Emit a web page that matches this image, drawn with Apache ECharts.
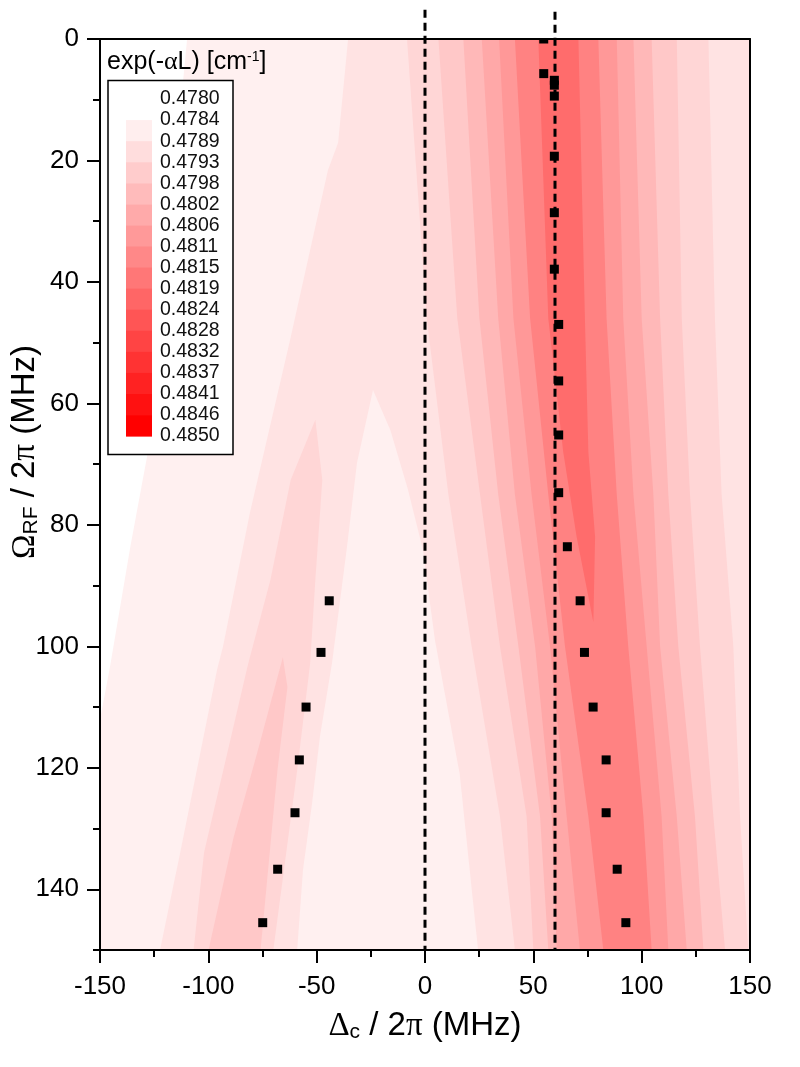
<!DOCTYPE html>
<html><head><meta charset="utf-8">
<style>html,body{margin:0;padding:0;background:#fff}#c{width:800px;height:1067px}</style>
<script src="https://cdn.jsdelivr.net/npm/echarts@6/dist/echarts.min.js"></script>
</head><body><div id="c"></div>
<script>
// ---- data ----
const xTicks = [-150, -100, -50, 0, 50, 100, 150];
const yMajor = [0, 20, 40, 60, 80, 100, 120, 140];
const yMinor = [10, 30, 50, 70, 90, 110, 130, 150];
const legendLabels = ['0.4780','0.4784','0.4789','0.4793','0.4798','0.4802','0.4806','0.4811','0.4815','0.4819','0.4824','0.4828','0.4832','0.4837','0.4841','0.4846','0.4850'];
const refLines = [0, 60];
const levelColors = ['#ffffff','#fff0f0','#ffe3e3','#ffd6d6','#ffc8c8','#ffb8b8','#ffa8a8','#ff9898','#ff8282','#ff6c6c'];

// contour boundaries of the main (right) dip: Δc at each row of Ω
const rowsY = [0, 46, 75, 100, 128, 150];
const left3  = [-8.3, 0.8, 10.8, 21.5, 34.6, 41.5];
const left4  = [6.2, 14.9, 25.4, 34.6, 46.9, 50];
const left5  = [17.7, 25.1, 33.8, 43.1, 53.1, 56.9];
const left6  = [26.2, 33.8, 41.5, 50.8, 58.5, 60.8];
const left7  = [34.2, 40.8, 49.2, 57.7, 65.4, 71.5];
const left8  = [41.5, 48.5, 56.9, 64.6, 75.4, 82.3];
const right3 = [130.8, 133.8, 136.9, 142.3, 145.4, 149.2];
const right4 = [116.2, 118.5, 122.3, 126.9, 133.1, 138.5];
const right5 = [104.6, 108.5, 112.3, 116.9, 124.6, 128.5];
const right6 = [96.2, 100, 105.4, 108.5, 116.2, 120.8];
const right7 = [88.5, 91.5, 96.2, 102.3, 109.2, 112.3];
const right8 = [80, 83.8, 88.5, 93.8, 100.8, 104.6];
const peak = [[52.3,0],[70.8,0],[73.8,46],[75.4,68],[78.5,82],[77.7,96],[70,82],[63.8,68],[56.9,46]];

// left-hand contours
const region1 = [[-109.8,0],[150,0],[150,150],[-150,150],[-150,112.1],[-145.4,103.4],[-136,83.6],[-128.3,68.8]];
const region2 = [[-35.5,0],[150,0],[150,150],[-122.3,150],[-113,134],[-96,103.9],[-93.2,100],[-80.8,78],[-62.3,49.6],[-44.8,21.6],[-40.1,17.1]];
const cone = [[-24,57.8],[-31.4,69.8],[-36,83.6],[-42.9,102.7],[-48.5,114.9],[-52.1,125.8],[-56.3,136.8],[-59,150],[24.5,150],[16,121],[4.6,99],[-1,84],[-8,74],[-16,64.4]];
const lobe3 = [[-50.6,62.7],[-62,72.6],[-71.3,89],[-81.7,103],[-102,134],[-106.8,150],[-70,150],[-59,120.4],[-53,102.8],[-50.6,89],[-47.4,72.6]];
const lobe4 = [[-65.6,101.8],[-77.5,117.6],[-88.3,131.4],[-99.9,150],[-75.9,150],[-68.1,120.4],[-63.5,106.7]];

// black squares: [Δc, Ω]
const pointsRight = [[54.8,0],[54.8,5.7],[59.7,6.8],[59.7,7.6],[59.7,9.4],[59.7,19.3],[59.7,28.6],[59.7,37.9],[61.7,47],[61.7,56.3],[61.7,65.2],[61.7,74.7],[65.7,83.6],[71.6,92.5],[73.6,101],[77.6,110],[83.6,118.7],[83.6,127.4],[88.7,136.7],[92.7,145.5]];
const pointsLeft = [[-44.2,92.5],[-48,101],[-54.9,110],[-58,118.7],[-60,127.4],[-68,136.7],[-74.9,145.5]];

// ---- build ----
const shade = i => { const g = Math.round(255 * (1 - i / 15)).toString(16).padStart(2, '0'); return '#ff' + g + g; };
const band = (l, r) => rowsY.map((y, i) => [l[i], y]).concat(rowsY.map((y, i) => [r[i], y]).reverse());
const bands = [
  [region1, 1], [region2, 2], [cone, 1],
  [lobe3, 3], [lobe4, 4],
  [band(left3, right3), 3], [band(left4, right4), 4], [band(left5, right5), 5],
  [band(left6, right6), 6], [band(left7, right7), 7], [band(left8, right8), 8], [peak, 9]
];
const font = 'Liberation Sans', greek = 'Liberation Serif';
const chart = echarts.init(document.getElementById('c'), null, {renderer: 'canvas'});
const MS = 9;

const legendX = 126, legendW = 26, legendTop = 99, legendStep = 21.07;
const legendEls = [
  {type:'rect', z:50, shape:{x:108,y:80.5,width:125,height:374}, style:{fill:'#fff',stroke:'#000',lineWidth:1.5}},
  {type:'text', z:51, x:107, y:62, style:{
     text:'{t|exp(-}{g|α}{t|L) [cm}{s|-1}{t|]}', verticalAlign:'middle',
     rich:{t:{fontFamily:font,fontSize:25,fill:'#000'},g:{fontFamily:greek,fontSize:26,fill:'#000'},s:{fontFamily:font,fontSize:14,fill:'#000',padding:[0,0,10,0]}}}}
];
legendLabels.forEach((lab, i) => {
  legendEls.push({type:'text', z:51, x:160, y:legendTop + i * legendStep, style:{text:lab, fontFamily:font, fontSize:19.5, fill:'#111', verticalAlign:'middle'}});
  if (i > 0 && i < 16) legendEls.push({type:'rect', z:50, shape:{x:legendX, y:legendTop + i * legendStep, width:legendW, height:legendStep+0.5}, style:{fill:shade(i)}});
});

const nameRich = {t:{fontFamily:font,fontSize:33,fill:'#000'},g:{fontFamily:greek,fontSize:33,fill:'#000'},s:{fontFamily:font,fontSize:21,fill:'#000',padding:[12,0,0,0]}};
const yName = {type:'text', z:60, x:25, y:452, rotation:Math.PI/2, style:{
  text:'{g|Ω}{s|RF}{t| / 2}{g|π}{t| (MHz)}', align:'center', verticalAlign:'middle', rich:nameRich}};
const xName = {type:'text', z:60, x:425, y:1026, style:{
  text:'{g|Δ}{s|c}{t| / 2}{g|π}{t| (MHz)}', align:'center', verticalAlign:'middle', rich:nameRich}};

const line = {show:true, onZero:false, lineStyle:{color:'#000', width:2}};
chart.setOption({
  animation:false,
  backgroundColor:'#fff',
  grid:{left:100, right:50, top:39, bottom:117},
  xAxis:[
    {type:'value', position:'bottom', min:-150, max:150, interval:50, z:20,
     axisLine:line, axisTick:{show:true, length:13, inside:false, lineStyle:{color:'#000',width:2}},
     minorTick:{show:true, splitNumber:2, length:7, lineStyle:{color:'#000',width:2}},
     axisLabel:{fontFamily:font, fontSize:26, color:'#000', margin:24, customValues:xTicks},
     splitLine:{show:false}, minorSplitLine:{show:false}},
    {type:'value', position:'top', min:-150, max:150, z:20, axisLine:line, axisTick:{show:false}, axisLabel:{show:false}, splitLine:{show:false}}
  ],
  yAxis:[
    {type:'value', position:'left', inverse:true, min:0, max:150, z:20,
     axisLine:line, axisTick:{show:true, length:13, customValues:yMajor, lineStyle:{color:'#000',width:2}},
     axisLabel:{fontFamily:font, fontSize:26, color:'#000', margin:21, customValues:yMajor, verticalAlign:'middle'},
     splitLine:{show:false}},
    {type:'value', position:'left', inverse:true, min:0, max:150, z:20,
     axisLine:{show:false, onZero:false}, axisTick:{show:true, length:7, customValues:yMinor, lineStyle:{color:'#000',width:2}},
     axisLabel:{show:false}, splitLine:{show:false}},
    {type:'value', position:'right', inverse:true, min:0, max:150, z:20, axisLine:line, axisTick:{show:false}, axisLabel:{show:false}, splitLine:{show:false}}
  ],
  series:[
    {type:'custom', name:'contours', coordinateSystem:'cartesian2d', xAxisIndex:0, yAxisIndex:0, silent:true, z:2,
     data:bands.map((b,i)=>[i]),
     encode:{x:[], y:[]},
     renderItem:(p, api)=>{
       const b = bands[p.dataIndex];
       return {type:'polygon', shape:{points:b[0].map(q=>api.coord(q))}, style:{fill:levelColors[b[1]]}};
     }},
    {type:'custom', name:'points', coordinateSystem:'cartesian2d', xAxisIndex:0, yAxisIndex:0, silent:true, z:6,
     data:pointsRight.concat(pointsLeft),
     encode:{x:0, y:1},
     renderItem:(p, api)=>{
       const c = api.coord([api.value(0), api.value(1)]);
       const r = echarts.graphic.clipRectByRect({x:c[0]-MS/2,y:c[1]-MS/2,width:MS,height:MS},
         {x:p.coordSys.x,y:p.coordSys.y,width:p.coordSys.width,height:p.coordSys.height});
       return r && {type:'rect', shape:r, style:{fill:'#000'}};
     }}
  ].concat(refLines.map((x,i)=>({
     type:'line', name:'ref'+x, xAxisIndex:0, yAxisIndex:0, clip:false, silent:true, symbol:'none', z:5,
     data:[[x, i===0 ? -4.8 : -4.5],[x,150]],
     lineStyle:{color:'#000', width:3, type:[8,5]}
  }))),
  graphic:{elements:legendEls.concat([yName,xName])}
});
</script></body></html>
